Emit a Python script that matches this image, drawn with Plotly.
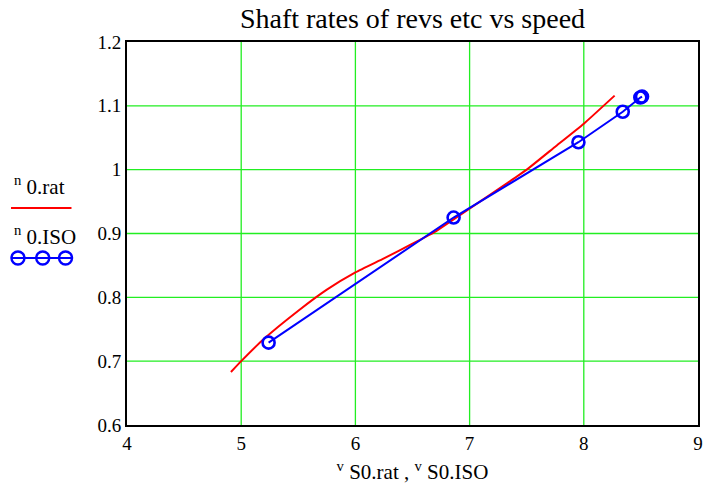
import plotly.graph_objects as go

# Rated shaft revolution curve n_0.rat against v_S0.rat
v_rat = [4.91, 5.0, 5.2, 5.5, 5.75, 6.0, 6.25, 6.5, 6.7, 6.85, 7.1, 7.5, 7.75, 8.0, 8.27]
n_rat = [0.683, 0.700, 0.735, 0.779, 0.812, 0.839, 0.861, 0.884, 0.903, 0.921, 0.951, 1.000, 1.036, 1.072, 1.116]

# ISO measurement points n_0.ISO against v_S0.ISO
v_iso = [5.24, 6.86, 7.953, 8.341, 8.495, 8.51]
n_iso = [0.729, 0.925, 1.043, 1.0907, 1.113, 1.1145]

x_ticks = [4, 5, 6, 7, 8, 9]
y_ticks = [0.6, 0.7, 0.8, 0.9, 1.0, 1.1, 1.2]
y_tick_text = ["0.6", "0.7", "0.8", "0.9", "1", "1.1", "1.2"]

RED = "#ff0000"
BLUE = "#0000ff"
GRID = "#22ee22"
FONT = "Liberation Serif"

fig = go.Figure()
fig.add_trace(go.Scatter(
    x=v_rat, y=n_rat, mode="lines",
    line=dict(color=RED, width=2, shape="spline", smoothing=0.4),
    hoverinfo="skip", showlegend=False,
))
fig.add_trace(go.Scatter(
    x=v_iso, y=n_iso, mode="lines+markers",
    line=dict(color=BLUE, width=2),
    marker=dict(symbol="circle-open", size=12, color=BLUE, line=dict(width=2.6, color=BLUE)),
    hoverinfo="skip", showlegend=False,
))

# plot-area geometry in pixels (used for the hand-made legend in the left margin)
W, H = 709, 495
ML, MR, MT, MB = 127, 6, 42, 70
PW, PH = W - ML - MR, H - MT - MB


def px_x(px):
    return (px - ML) / PW


def px_y(py):
    return (H - MB - py) / PH


shapes = []
# green grid at the inner tick positions, drawn beneath the curves
for xv in x_ticks[1:-1]:
    shapes.append(dict(type="line", xref="x", yref="paper", x0=xv, x1=xv, y0=0, y1=1,
                       layer="below", line=dict(color=GRID, width=1.3)))
for yv in y_ticks[1:-1]:
    shapes.append(dict(type="line", xref="paper", yref="y", x0=0, x1=1, y0=yv, y1=yv,
                       layer="below", line=dict(color=GRID, width=1.3)))

# legend samples in the left margin
shapes += [
    dict(type="line", xref="paper", yref="paper",
         x0=px_x(10), x1=px_x(71), y0=px_y(208), y1=px_y(208),
         line=dict(color=RED, width=2)),
    dict(type="line", xref="paper", yref="paper",
         x0=px_x(10), x1=px_x(71), y0=px_y(258), y1=px_y(258),
         line=dict(color=BLUE, width=2)),
]
for cx in (17, 42, 65):
    shapes.append(dict(
        type="circle", xref="paper", yref="paper",
        xsizemode="pixel", ysizemode="pixel",
        xanchor=px_x(cx), yanchor=px_y(258),
        x0=-6.5, x1=6.5, y0=-6.5, y1=6.5,
        line=dict(color=BLUE, width=2.4),
    ))

annotations = [
    dict(text="<sup>n</sup> 0.rat", xref="paper", yref="paper",
         x=px_x(11), y=px_y(185), xanchor="left", yanchor="middle",
         showarrow=False, font=dict(family=FONT, size=21, color="black")),
    dict(text="<sup>n</sup> 0.ISO", xref="paper", yref="paper",
         x=px_x(11), y=px_y(235), xanchor="left", yanchor="middle",
         showarrow=False, font=dict(family=FONT, size=21, color="black")),
]

axis_common = dict(
    showline=True, mirror=True, linecolor="black", linewidth=2,
    showgrid=False, zeroline=False, ticks="",
    tickfont=dict(family=FONT, size=19, color="black"),
)

fig.update_layout(
    width=W, height=H,
    margin=dict(l=ML, r=MR, t=MT, b=MB),
    paper_bgcolor="white", plot_bgcolor="white",
    title=dict(text="Shaft rates of revs etc vs speed", x=0.5, xref="paper",
               xanchor="center", y=1 - 18 / H, yanchor="middle",
               font=dict(family=FONT, size=28, color="black")),
    xaxis=dict(range=[4, 9], tickvals=x_ticks, **axis_common,
               title=dict(text="<sup>v</sup> S0.rat , <sup>v</sup> S0.ISO",
                          font=dict(family=FONT, size=21, color="black"), standoff=12)),
    yaxis=dict(range=[0.6, 1.2], tickvals=y_ticks, ticktext=y_tick_text, **axis_common),
    shapes=shapes,
    annotations=annotations,
    hovermode=False,
)

fig.write_html("out.html")
